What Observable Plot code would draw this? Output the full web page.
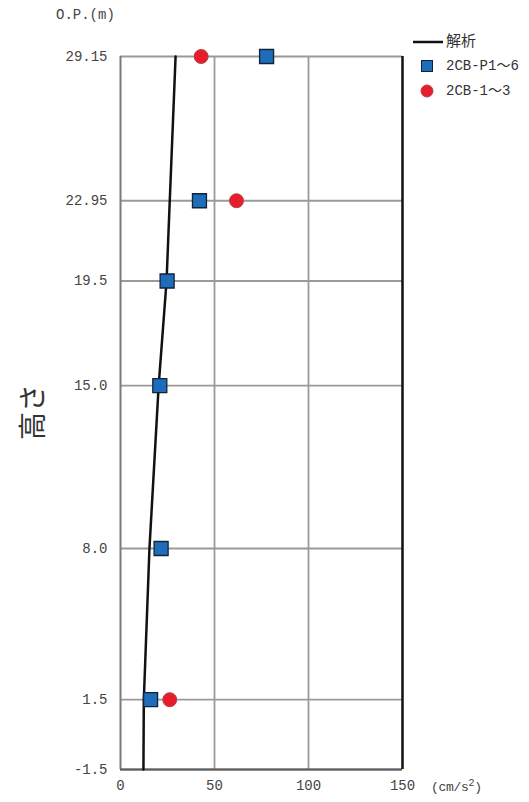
<!DOCTYPE html>
<html>
<head>
<meta charset="utf-8">
<script src="https://cdn.jsdelivr.net/npm/d3@7"></script>
<script src="https://cdn.jsdelivr.net/npm/@observablehq/plot@0.6"></script>
<style>
  html, body { margin: 0; padding: 0; background: #fff; }
  svg { display: block; }
</style>
</head>
<body>
<div id="chart"></div>
<script>
// Heights (O.P., m)
const yTicks = [29.15, 22.95, 19.5, 15.0, 8.0, 1.5, -1.5];
const yTickLabels = ["29.15", "22.95", "19.5", "15.0", "8.0", "1.5", "-1.5"];
const xTicks = [0, 50, 100, 150];

// 解析 (analysis line)
const analysisHeight = [29.15, 22.95, 19.5, 15.0, 8.0, 1.5, -1.5];
const analysisAcc    = [29.3, 26.2, 24.5, 20.3, 15.4, 12.4, 12.2];

// 2CB-P1～6 (squares)
const p16Height = [29.15, 22.95, 19.5, 15.0, 8.0, 1.5];
const p16Acc    = [77.7, 42.0, 24.8, 20.9, 21.6, 16.0];

// 2CB-1～3 (circles)
const c13Height = [29.15, 22.95, 1.5];
const c13Acc    = [42.9, 61.7, 26.2];

const seriesNames = ["解析", "2CB-P1～6", "2CB-1～3"];

const analysis = analysisHeight.map((h, i) => ({h, a: analysisAcc[i]}));
const p16 = p16Height.map((h, i) => ({h, a: p16Acc[i]}));
const c13 = c13Height.map((h, i) => ({h, a: c13Acc[i]}));

const MONO = "'Liberation Mono', 'Noto Sans CJK JP', monospace";
const CJK = "'Noto Sans CJK JP', sans-serif";
const tickLabelMap = new Map(yTicks.map((t, i) => [t, yTickLabels[i]]));

const W = 529, H = 802;
const svg = Plot.plot({
  width: W,
  height: H,
  marginLeft: 120,
  marginRight: 127,
  marginTop: 56,
  marginBottom: 33,
  style: {fontFamily: MONO, fontSize: "14px", color: "#444", background: "#fff"},
  x: {domain: [0, 150], ticks: xTicks, tickSize: 0, tickPadding: 11, label: null},
  y: {domain: [-1.5, 29.15], ticks: yTicks, tickSize: 0, tickPadding: 13, label: null,
      tickFormat: d => tickLabelMap.get(d)},
  marks: [
    Plot.ruleY(yTicks, {stroke: "#9a9a9a", strokeWidth: 1.8}),
    Plot.ruleX([50, 100], {stroke: "#9a9a9a", strokeWidth: 1.8}),
    Plot.ruleX([0], {stroke: "#7a7a7a", strokeWidth: 2}),
    Plot.ruleY([-1.5], {stroke: "#5a5a5a", strokeWidth: 2}),
    Plot.ruleX([150], {stroke: "#111", strokeWidth: 2.5}),
    Plot.line(analysis, {x: "a", y: "h", stroke: "#111", strokeWidth: 2.5}),
    Plot.dot(p16, {x: "a", y: "h", symbol: "square", r: 7.9, fill: "#1f6cb8", stroke: "#10233d", strokeWidth: 1.3}),
    Plot.dot(c13, {x: "a", y: "h", symbol: "circle", r: 7, fill: "#e41f2b", stroke: "#c23a48", strokeWidth: 1}),
    Plot.axisX({ticks: xTicks, tickSize: 0, tickPadding: 11, fontSize: 14, fill: "#444"}),
    Plot.axisY({ticks: yTicks, tickSize: 0, tickPadding: 13, fontSize: 14, fill: "#444",
                tickFormat: d => tickLabelMap.get(d)})
  ]
});

const s = d3.select(svg);
// Units
s.append("text").attr("x", 56).attr("y", 15).attr("dominant-baseline", "middle")
  .attr("text-anchor", "start")
  .attr("font-size", 14).attr("fill", "#444").attr("font-family", MONO)
  .text("O.P.(m)");
const unit = s.append("text").attr("x", 431).attr("y", 788).attr("dominant-baseline", "middle")
  .attr("text-anchor", "start")
  .attr("font-size", 13).attr("fill", "#444").attr("font-family", MONO)
  .attr("letter-spacing", -0.3);
unit.append("tspan").text("(cm/s");
unit.append("tspan").attr("font-size", 10).attr("dy", -5).text("2");
unit.append("tspan").attr("dy", 5).text(")");
// Y label
s.append("text").attr("transform", "translate(35,412) rotate(-90)")
  .attr("text-anchor", "middle").attr("dominant-baseline", "middle")
  .attr("font-size", 28).attr("fill", "#333").attr("font-family", CJK)
  .text("高さ");

// Legend
const lg = s.append("g").attr("font-size", 14).attr("fill", "#333").attr("text-anchor", "start");
lg.append("line").attr("x1", 413).attr("x2", 443).attr("y1", 42).attr("y2", 42)
  .attr("stroke", "#111").attr("stroke-width", 2.5);
lg.append("text").attr("x", 446).attr("y", 42).attr("dominant-baseline", "middle")
  .attr("font-family", CJK).attr("font-size", 15).text(seriesNames[0]);
lg.append("rect").attr("x", 421.5).attr("y", 60.5).attr("width", 11).attr("height", 11)
  .attr("fill", "#1f6cb8").attr("stroke", "#10233d").attr("stroke-width", 1);
lg.append("text").attr("x", 446).attr("y", 66).attr("dominant-baseline", "middle")
  .attr("font-family", MONO).text(seriesNames[1]);
lg.append("circle").attr("cx", 427).attr("cy", 91).attr("r", 6)
  .attr("fill", "#e41f2b").attr("stroke", "#c23a48").attr("stroke-width", 1);
lg.append("text").attr("x", 446).attr("y", 91).attr("dominant-baseline", "middle")
  .attr("font-family", MONO).text(seriesNames[2]);

document.getElementById("chart").appendChild(svg);
</script>
</body>
</html>
